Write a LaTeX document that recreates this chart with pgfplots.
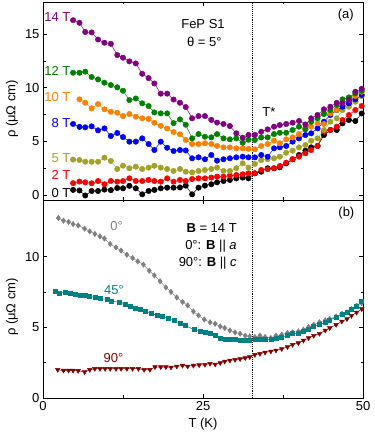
\documentclass[border=0pt]{standalone}
\usepackage{fontspec}
\setmainfont{Liberation Sans}
\usepackage{pgfplots}
\usepackage{pgfplotstable}
\pgfplotsset{compat=1.18}

\definecolor{c14}{RGB}{128,0,128}
\definecolor{c12}{RGB}{0,128,0}
\definecolor{c10}{RGB}{255,128,0}
\definecolor{c8}{RGB}{0,0,255}
\definecolor{c5}{RGB}{165,160,40}
\definecolor{c5line}{RGB}{90,230,90}
\definecolor{c2}{RGB}{255,0,0}
\definecolor{cgray}{RGB}{128,128,128}
\definecolor{cteal}{RGB}{0,128,128}
\definecolor{cdred}{RGB}{128,0,0}

% panel (a): rho vs T at several fields (theta = 5 deg)
\pgfplotstableread{
T     B14   B12   B10   B8    B5    B2    B0
4.7   16.3  11.4  nan   6.62  3.3   1.1   0.47
5.7   16.06 11.4  8.92  6.35  3.26  1.25  0.42
6.6   15.2  11.5  8.6   6.31  3.1   1.18  -0.05
7.6   15.16 11.0  8.08  6.4   3.1   1.09  0.37
8.6   14.5  10.78 8.48  6.03  3.1   1.3   0.37
9.6   14.2  10.47 7.99  6.21  3.48  1.0   0.5
10.6  14.1  10.25 7.76  5.5   3.17  1.3   0.45
11.6  13.05 10.04 7.67  5.78  2.42  1.24  0.65
12.5  12.8  9.72  7.36  5.4   2.73  1.3   0.62
13.5  12.46 8.85  7.55  4.97  2.49  1.55  0.85
14.5  12.27 9.0   7.3   4.97  2.64  1.3   0.62
15.5  11.3  8.55  7.15  5.28  2.42  1.3   0.06
16.5  10.9  8.29  7.1   4.75  2.55  1.4   0.37
17.4  10.4  7.7   6.74  4.19  2.73  1.3   0.47
18.4  9.45  7.61  6.45  4.97  2.55  1.24  0.62
19.4  9.45  7.61  6.2   4.4   2.42  1.55  0.68
20.4  8.9   6.7   5.87  4.1   2.24  1.24  0.68
21.4  8.6   7.05  5.66  4.19  2.42  1.4   0.7
22.3  8.2   6.55  5.13  4.15  2.17  1.3   0.87
23.3  7.15  5.28  4.75  3.42  2.11  1.49  0.06
24.3  7.36  5.68  4.75  3.51  2.24  1.55  0.68
25.3  7.36  5.43  4.82  3.33  2.33  1.55  0.87
26.3  7.0   5.37  4.75  3.73  2.42  1.62  1.0
27.2  6.75  5.68  4.57  3.2   2.55  1.71  1.18
28.2  6.62  5.28  4.44  3.33  2.24  1.71  1.3
29.2  6.43  5.19  4.44  3.42  2.24  1.8   1.4
30.2  5.75  5.28  4.35  3.51  2.49  1.86  1.55
31.2  5.34  4.87  4.35  3.57  2.95  1.93  1.62
32.1  5.6   5.15  4.3   3.51  2.55  2.02  1.55
33.1  5.6   5.13  4.26  3.51  2.89  2.02  2.02
34.1  5.9   5.37  4.57  3.73  3.26  2.33  2.17
35.1  6.12  5.37  4.75  3.57  3.33  2.4   2.49
36.1  6.37  5.68  5.06  4.35  3.42  2.49  2.49
37.0  6.52  5.8   4.82  4.44  3.57  2.7   2.58
38.0  6.62  5.8   5.19  4.57  3.94  3.01  2.95
39.0  6.74  6.06  5.37  4.97  4.13  3.33  3.33
40.0  6.9   6.37  5.68  5.28  4.44  3.57  3.73
41.0  6.58  6.12  6.21  5.59  4.66  3.88  4.13
41.9  7.15  6.83  6.37  5.75  5.06  4.19  4.44
42.9  7.46  7.15  6.68  6.21  5.28  4.57  4.57
43.9  7.99  7.55  6.62  6.83  6.06  5.9   5.59
44.9  8.23  7.92  7.61  7.46  6.83  6.06  6.06
45.9  8.6   8.39  7.92  7.92  7.15  6.37  6.06
46.8  8.55  8.92  8.6   8.23  7.92  6.99  6.68
47.8  8.85  9.1   8.92  8.55  8.23  7.46  6.99
48.8  9.63  9.48  9.23  8.92  8.7   7.92  6.9
49.8  9.9   9.72  9.63  9.32  9.23  8.3   7.6
}\fieldtab

% panel (b): B = 14 T at three angles
\pgfplotstableread{
T     r
2.4   12.73
3.2   12.54
4.0   12.45
4.7   12.3
5.5   12.2
6.5   11.97
7.3   11.78
8.1   11.6
8.9   11.43
9.6   11.27
10.5  10.89
11.4  10.65
12.2  10.42
13.1  10.13
14.0  9.9
14.8  9.66
15.7  9.43
16.6  9.0
17.4  8.67
18.3  8.25
19.2  7.82
20.0  7.5
20.9  7.11
21.8  6.79
22.6  6.55
23.5  6.12
24.3  5.84
25.2  5.55
26.1  5.35
26.9  5.25
27.7  5.06
28.4  4.95
29.2  4.78
30.0  4.64
30.8  4.55
31.6  4.41
32.3  4.36
33.1  4.31
33.9  4.41
34.7  4.31
35.6  4.24
36.4  4.41
37.3  4.48
38.2  4.6
39.0  4.64
39.9  4.71
40.7  4.83
41.5  5.02
42.3  5.18
43.2  5.35
44.1  5.49
44.8  5.59
45.8  5.77
46.7  5.96
47.5  6.05
48.2  6.29
49.0  6.53
49.8  6.72
}\angzero

\pgfplotstableread{
T     r
1.9   7.54
2.5   7.42
3.4   7.5
4.2   7.42
5.0   7.35
5.8   7.3
6.6   7.26
7.3   7.19
8.1   7.11
8.9   7.07
10.0  6.95
10.6  6.83
11.9  6.79
12.8  6.65
13.6  6.48
14.4  6.32
15.2  6.24
15.9  6.12
16.9  6.01
17.8  5.84
18.6  5.77
19.6  5.61
20.5  5.47
21.4  5.3
22.2  5.13
23.6  4.83
24.5  4.71
25.3  4.64
26.1  4.55
26.9  4.41
27.7  4.24
28.4  4.17
29.2  4.12
30.0  4.12
30.8  4.07
31.6  4.07
32.3  4.07
33.1  4.17
33.9  4.17
34.7  4.12
35.6  4.12
36.4  4.24
37.3  4.31
38.2  4.41
39.0  4.55
39.9  4.6
40.7  4.71
41.5  4.83
42.3  5.06
43.2  5.18
44.1  5.35
44.8  5.49
45.8  5.73
46.7  5.89
47.5  6.05
48.2  6.24
49.0  6.48
49.8  6.83
}\angfortyfive

\pgfplotstableread{
T     r
2.3   2.0
3.2   1.95
4.0   1.95
4.7   1.95
5.5   1.93
6.5   1.84
7.3   2.0
8.1   2.07
8.9   2.07
9.7   2.07
10.5  2.07
11.4  2.07
12.2  2.07
13.1  2.07
14.0  2.07
14.9  2.07
15.8  2.0
16.7  2.0
17.5  2.19
18.4  2.19
19.2  2.19
20.0  2.17
20.9  2.24
21.8  2.3
22.6  2.24
23.5  2.3
24.4  2.33
25.3  2.36
26.1  2.43
26.9  2.38
27.7  2.48
28.4  2.59
29.2  2.66
30.0  2.71
30.8  2.76
31.6  2.83
32.3  2.9
33.1  3.06
33.9  3.13
34.7  3.22
35.6  3.3
36.4  3.37
37.3  3.47
38.2  3.61
39.0  3.77
39.9  3.89
40.7  4.07
41.5  4.24
42.3  4.41
43.2  4.55
44.1  4.78
44.8  4.95
45.8  5.18
46.7  5.42
47.5  5.59
48.2  5.82
49.0  6.05
49.8  6.29
}\angninety

\pgfplotsset{
  panel/.style={
    width=320pt, height=198pt, scale only axis,
    xmin=0, xmax=50,
    xtick={0,25,50}, minor x tick num=1,
    minor y tick num=1,
    tick align=inside,
    xtick pos=both, ytick pos=both,
    xticklabel pos=bottom, yticklabel pos=left,
    major tick length=4pt, minor tick length=2.5pt,
    axis line style={line width=0.7pt},
    every tick/.style={black, line width=0.6pt},
    /pgf/number format/assume math mode=true,
    tick label style={font=\fontsize{13}{15}\selectfont},
    label style={font=\fontsize{13}{15}\selectfont},
    ylabel={ρ (μΩ cm)},
    ylabel style={at={(ticklabel cs:0.46)}},
    clip=false,
  },
  fld/.style={mark=*, mark size=2.7pt, line width=0.5pt},
}

\begin{document}
\begin{tikzpicture}[font=\fontsize{13}{15}\selectfont]
\useasboundingbox (-43pt,-238pt) rectangle (331pt,200pt);

\begin{axis}[panel, name=top, at={(0,0)}, anchor=south west,
    ymin=-0.47, ymax=18, ytick={0,5,10,15}, xticklabels={}]
  \addplot[fld, color=black] table[x=T, y=B0] {\fieldtab};
  \addplot[fld, color=c2] table[x=T, y=B2] {\fieldtab};
  \addplot[fld, color=c5line, mark options={fill=c5, draw=c5}] table[x=T, y=B5] {\fieldtab};
  \addplot[fld, color=c8] table[x=T, y=B8] {\fieldtab};
  \addplot[fld, color=c10] table[x=T, y=B10] {\fieldtab};
  \addplot[fld, color=c12] table[x=T, y=B12] {\fieldtab};
  \addplot[fld, color=c14] table[x=T, y=B14] {\fieldtab};
  \draw[densely dotted, line width=0.9pt] (axis cs:32.8,-0.47) -- (axis cs:32.8,18);
  \node[anchor=east, inner sep=0pt, text=c14] at (axis cs:4.3,16.6) {14 T};
  \node[anchor=east, inner sep=0pt, text=c12] at (axis cs:4.3,11.6) {12 T};
  \node[anchor=east, inner sep=0pt, text=c10] at (axis cs:4.3,9.1) {10 T};
  \node[anchor=east, inner sep=0pt, text=c8] at (axis cs:4.3,6.74) {8 T};
  \node[anchor=east, inner sep=0pt, text=c5] at (axis cs:4.3,3.42) {5 T};
  \node[anchor=east, inner sep=0pt, text=c2] at (axis cs:4.3,1.86) {2 T};
  \node[anchor=east, inner sep=0pt, text=black] at (axis cs:4.3,0.21) {0 T};
  \node at (axis cs:25,15.94) {FeP S1};
  \node at (axis cs:25.2,14.3) {θ = 5°};
  \node at (axis cs:47.3,16.8) {(a)};
  \node at (axis cs:35.3,7.76) {T*};
\end{axis}

\begin{axis}[panel, name=bot, at={(0,0)}, anchor=north west,
    ymin=0, ymax=14, ytick={0,5,10},
    xlabel={T (K)}]
  \addplot[color=cgray, line width=0.5pt, mark=diamond*, mark size=2.7pt] table[x=T, y=r] {\angzero};
  \addplot[color=cteal, line width=0.5pt, mark=square*, mark size=2.0pt] table[x=T, y=r] {\angfortyfive};
  \addplot[color=cdred, line width=0.5pt, mark=triangle*, mark size=2.6pt, mark options={rotate=180}] table[x=T, y=r] {\angninety};
  \draw[densely dotted, line width=0.9pt] (axis cs:32.8,0) -- (axis cs:32.8,14);
  \node at (axis cs:47.4,13.1) {(b)};
  \node[anchor=east, inner sep=0pt] at (axis cs:30.3,12.02) {\textbf{B} = 14 T};
  \node[anchor=east, inner sep=0pt] at (axis cs:30.3,10.77) {0°: \textbf{B} || \textit{a}};
  \node[anchor=east, inner sep=0pt] at (axis cs:30.3,9.55) {90°: \textbf{B} || \textit{c}};
  \node[text=cgray] at (axis cs:11.5,12.14) {0°};
  \node[text=cteal] at (axis cs:11.1,7.66) {45°};
  \node[text=cdred] at (axis cs:11.0,2.83) {90°};
\end{axis}
\end{tikzpicture}
\end{document}
